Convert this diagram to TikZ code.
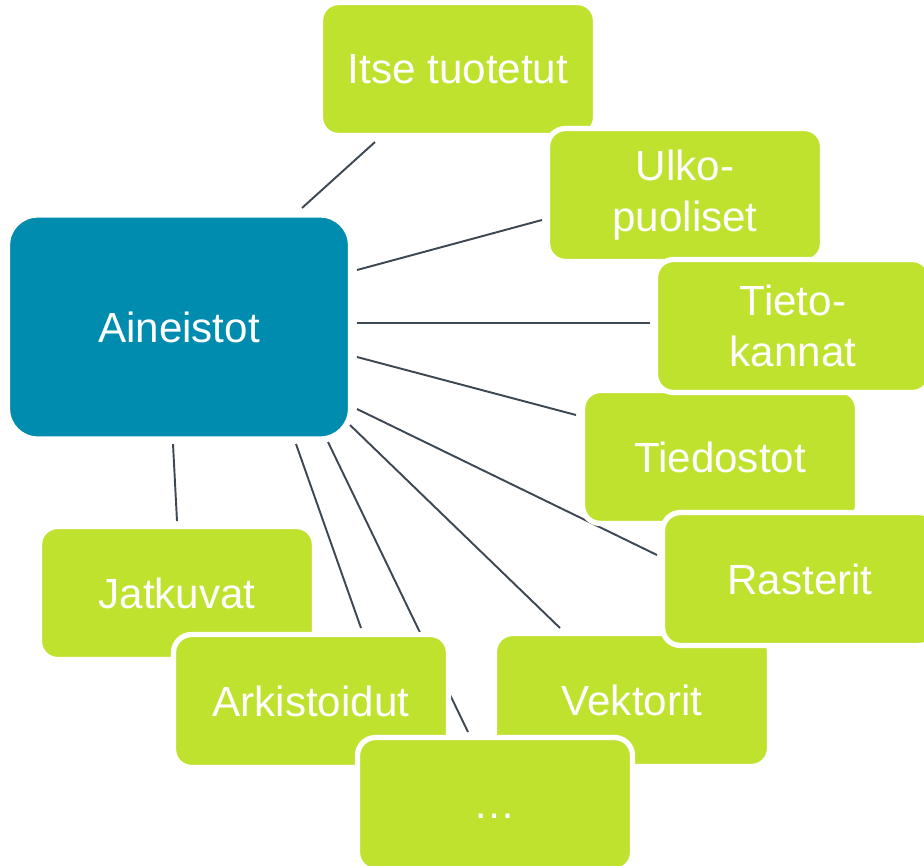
\documentclass[tikz,border=0pt]{standalone}
\usepackage{fontspec}
\setmainfont{Liberation Sans}
\usetikzlibrary{backgrounds}
\definecolor{hubteal}{HTML}{008CAE}
\definecolor{itemgreen}{HTML}{BFE22E}
\definecolor{spokegray}{HTML}{3D4853}

\begin{document}
\begin{tikzpicture}[
  x=0.02cm, y=-0.02cm,
  hub/.style ={draw=white, line width=3pt, rounded corners=0.6cm, fill=hubteal, minimum width=6.86cm, minimum height=4.48cm, inner sep=0pt},
  item/.style={draw=white, line width=3pt, rounded corners=0.36cm, fill=itemgreen, minimum width=5.5cm, minimum height=2.66cm, inner sep=0pt, align=center},
  spoke/.style={draw=spokegray, line width=1.1pt},
  every node/.style={text=white, font=\fontsize{24}{29}\selectfont},
]
\useasboundingbox (0,0) rectangle (924,866);

% centre and the items round it
\node[hub] (main) at (179,327) {Aineistot};
\node[item] (itse) at (458,69) {Itse tuotetut};
\node[item] (ulko) at (685,195) {Ulko-\\puoliset};
\node[item] (tied) at (720,457) {Tiedostot};
\node[item] (tieto) at (793,326) {Tieto-\\kannat};
\node[item] (vekt) at (632,700) {Vektorit};
\node[item] (rast) at (800,579) {Rasterit};
\node[item] (jatk) at (177,593) {Jatkuvat};
\node[item] (ark) at (311,701) {Arkistoidut};
\node[item] (muut) at (495,804) {\vphantom{I}…};

% spokes behind the boxes
\begin{scope}[on background layer]
\draw[spoke] ([shift={(123,-119)}]main.center) -- ([shift={(-83,73)}]itse.center);
\draw[spoke] ([shift={(178,-57)}]main.center) -- ([shift={(-143,25)}]ulko.center);
\draw[spoke] ([shift={(178,-4)}]main.center) -- ([shift={(-143,-3)}]tieto.center);
\draw[spoke] ([shift={(178,30)}]main.center) -- ([shift={(-144,-42)}]tied.center);
\draw[spoke] ([shift={(178,82)}]main.center) -- ([shift={(-143,-24)}]rast.center);
\draw[spoke] ([shift={(171,98)}]main.center) -- ([shift={(-72,-72)}]vekt.center);
\draw[spoke] ([shift={(149,115)}]main.center) -- ([shift={(-27,-72)}]muut.center);
\draw[spoke] ([shift={(117,117)}]main.center) -- ([shift={(50,-73)}]ark.center);
\draw[spoke] ([shift={(-6,117)}]main.center) -- ([shift={(0,-72)}]jatk.center);
\end{scope}
\end{tikzpicture}
\end{document}
